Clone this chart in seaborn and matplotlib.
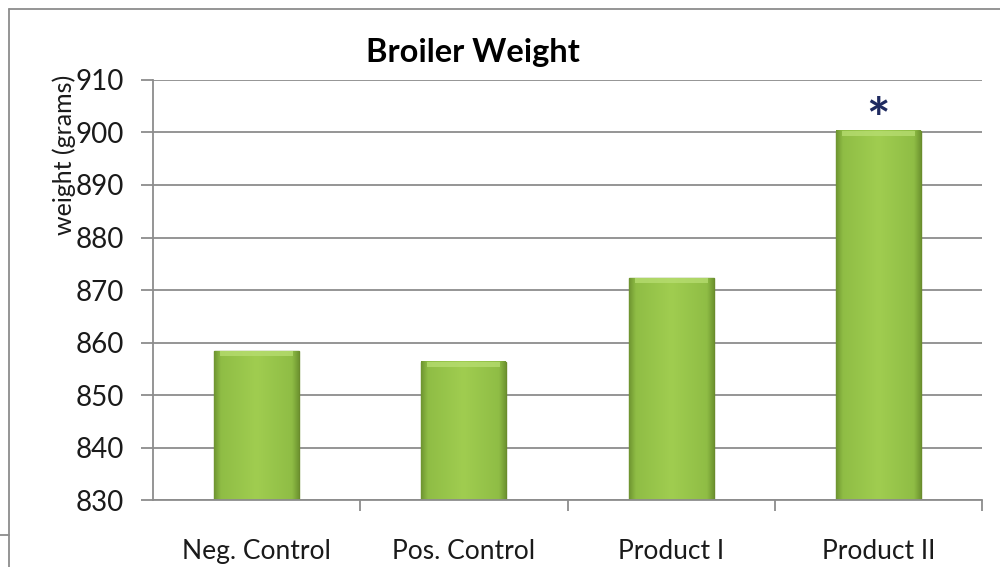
import numpy as np
import pandas as pd
import matplotlib
matplotlib.use("Agg")
import matplotlib.pyplot as plt
import seaborn as sns
from matplotlib.lines import Line2D
from matplotlib.colors import LinearSegmentedColormap

# Broiler weights per treatment group (grams)
groups = ["Neg. Control", "Pos. Control", "Product I", "Product II"]
weights = [858.3, 856.3, 872.2, 900.3]
significant = [False, False, False, True]
y_ticks = [830, 840, 850, 860, 870, 880, 890, 900, 910]
y_min, y_max = 830, 910

sns.set_theme(style="white")
plt.rcParams["font.family"] = ["Lato", "DejaVu Sans"]

df = pd.DataFrame({"group": groups, "weight": weights})

fig = plt.figure(figsize=(10, 5.67), dpi=100)
ax = fig.add_axes([0.153, 0.118, 0.829, 0.741])

sns.barplot(data=df, x="group", y="weight", color="#99C84B", width=0.41,
            edgecolor="#6A8C2C", linewidth=1.0, ax=ax, zorder=3)

ax.set_yticks(y_ticks)
ax.yaxis.grid(True, color="#8C8C8C", linewidth=1.3, zorder=0)
ax.set_axisbelow(True)

# Shaded bevel look on each bar
cmap = LinearSegmentedColormap.from_list(
    "bevel", [(0.0, "#6E9430"), (0.08, "#8FBD45"), (0.5, "#A0CD50"),
              (0.92, "#8FBD45"), (1.0, "#6E9430")])
grad = np.linspace(0, 1, 256).reshape(1, -1)
for patch in ax.patches:
    x0 = patch.get_x()
    w, top = patch.get_width(), patch.get_y() + patch.get_height()
    ax.imshow(grad, extent=[x0, x0 + w, y_min, top], aspect="auto",
              cmap=cmap, zorder=3.5, interpolation="bicubic")
    # top bevel highlight
    ax.fill_between([x0 + w * 0.07, x0 + w * 0.93], top - 0.9, top,
                    color="#B8DE72", alpha=0.75, zorder=3.6, linewidth=0)

ax.set_ylim(y_min, y_max)
ax.set_xlim(-0.5, 3.5)

for sp in ["top", "right"]:
    ax.spines[sp].set_visible(False)
for sp in ["left", "bottom"]:
    ax.spines[sp].set_color("#8C8C8C")
    ax.spines[sp].set_linewidth(1.3)
    ax.spines[sp].set_zorder(4)

# Category boundary ticks below the axis
ax.set_xticks([0.5, 1.5, 2.5, 3.5], minor=True)
ax.set_xticks(range(len(groups)))
ax.set_xticklabels(groups, fontsize=19, color="#1a1a1a")
ax.tick_params(axis="x", which="major", length=0, pad=28)
ax.tick_params(axis="x", which="minor", length=8, width=1.3, color="#8C8C8C",
               direction="out", bottom=True)
ax.tick_params(axis="y", length=9, width=1.3, color="#8C8C8C", left=True,
               labelsize=20, labelcolor="#1a1a1a", pad=12)
ax.set_xlabel("")
ax.set_ylabel("")

for i, (w, s) in enumerate(zip(weights, significant)):
    if s:
        ax.text(i, w + 1.6, "*", ha="center", va="center", fontsize=40,
                fontweight="bold", color="#1F2A60")

fig.text(0.473, 0.908, "Broiler Weight", ha="center", va="center",
         fontsize=23.5, fontweight="bold", color="#000000")
fig.text(0.064, 0.727, "weight (grams)", rotation=90, ha="center",
         va="center", fontsize=18, color="#1a1a1a")

# Chart frame
frame_color = "#8C8C8C"
fig.add_artist(Line2D([0.009, 1.0], [0.985, 0.985], color=frame_color,
                      linewidth=1.3, transform=fig.transFigure))
fig.add_artist(Line2D([0.009, 0.009], [0.0, 0.985], color=frame_color,
                      linewidth=1.3, transform=fig.transFigure))
fig.add_artist(Line2D([0.0, 0.009], [0.056, 0.056], color=frame_color,
                      linewidth=1.3, transform=fig.transFigure))

fig.savefig("out.png", dpi=100, facecolor="white")
